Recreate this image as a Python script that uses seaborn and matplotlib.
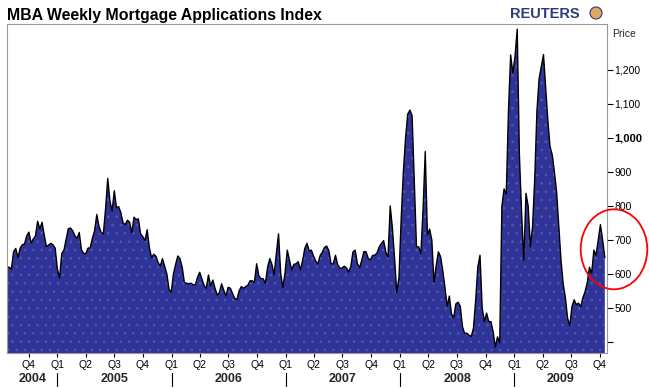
import numpy as np
import pandas as pd
import matplotlib
matplotlib.use("Agg")
import matplotlib.pyplot as plt
from matplotlib.patches import Ellipse, Circle
import seaborn as sns

# ---------------- data ----------------
start_date = "2004-07-24"
index_values = [
    620, 620, 614, 665, 675, 648, 676, 686, 688, 712,
    723, 691, 703, 712, 755, 732, 752, 715, 680, 685,
    690, 686, 676, 615, 588, 660, 670, 702, 733, 735,
    727, 712, 705, 722, 671, 660, 660, 676, 677, 705,
    727, 775, 740, 722, 718, 790, 881, 815, 785, 845,
    795, 798, 780, 750, 745, 758, 752,
    721, 767, 760, 762, 718, 710, 698, 730, 678, 648,
    658, 652, 634, 623, 645, 622, 600, 555, 546, 600,
    628, 653, 645, 620, 575, 573, 571, 573, 568, 568,
    590, 605, 585, 566, 558, 597, 565, 582, 558, 538,
    545, 571, 552, 535, 561, 558, 543, 528, 525, 550,
    563, 558, 563, 567, 580,
    580, 575, 630, 595, 586, 586, 572, 620, 645, 628,
    598, 660, 718, 600, 560, 605, 670, 640, 612, 628,
    630, 636, 612, 640, 675, 690, 668, 670, 652, 638,
    630, 654, 664, 678, 682, 668, 630, 630, 655, 628,
    617, 617, 623, 618, 606, 622, 665, 670, 631, 618,
    640, 666, 665, 645,
    642, 655, 655, 662, 680, 690, 698, 664, 650, 800,
    735, 645, 545, 590, 760, 900, 1000, 1070, 1082, 1065,
    876, 680, 680, 660, 790, 960, 715, 732, 700, 575,
    625, 665, 651, 610, 560, 505, 535, 482, 472, 512,
    517, 505, 445, 425, 426, 420, 416, 440, 520, 620,
    655, 500, 460, 485, 460,
    460, 430, 385, 415, 398, 800, 850, 835, 1080, 1244,
    1190, 1240, 1320, 950, 780, 640, 837, 800, 680, 740,
    880, 1080, 1175, 1210, 1245, 1145, 1050, 974, 950, 900,
    840, 740, 640, 570, 530, 470, 448, 504, 524, 510,
    514, 504, 530, 548, 575, 620, 602, 670, 655, 700,
    745, 700, 648,
]
y_ticks = [400, 500, 600, 700, 800, 900, 1000, 1100, 1200]
y_tick_labels = ["", "500", "600", "700", "800", "900", "1,000", "1,100", "1,200"]
quarter_start = "2004-10-01"
quarter_end = "2009-10-01"
years = [2004, 2005, 2006, 2007, 2008, 2009]
title = "MBA Weekly Mortgage Applications Index"

dates = pd.date_range(start_date, periods=len(index_values), freq="7D")
df = pd.DataFrame({"date": dates, "index": index_values})

# ---------------- style ----------------
sns.set_style("white")
plt.rcParams["font.family"] = ["Liberation Sans", "DejaVu Sans"]
plt.rcParams["hatch.linewidth"] = 0.6

W, H = 649, 388
fig = plt.figure(figsize=(W / 100, H / 100), dpi=100)
ax = fig.add_axes([7 / W, 35 / H, 600 / W, 329 / H])

ymin, ymax = 367.6, 1335
x0 = pd.Timestamp(start_date)
x1 = pd.Timestamp("2009-10-24")

ax.fill_between(df["date"], df["index"], ymin, facecolor="#313399",
                hatch="..", edgecolor="#3f66aa", linewidth=0, zorder=1)
sns.lineplot(data=df, x="date", y="index", ax=ax, color="black",
             linewidth=1.0, zorder=2)

ax.set_xlim(x0, x1)
ax.set_ylim(ymin, ymax)
ax.set_xlabel("")
ax.set_ylabel("")

# y axis on the right
ax.yaxis.tick_right()
ax.set_yticks(y_ticks)
ax.set_yticklabels(y_tick_labels)
ax.tick_params(axis="y", which="both", direction="out", length=4, width=0.8,
               pad=1.5, labelsize=7.5, colors="black", right=True, left=False)
ax.get_yticklabels()[6].set_fontweight("bold")
ax.get_yticklabels()[6].set_fontsize(8)

# quarter ticks
qticks = pd.date_range(quarter_start, quarter_end, freq="QS")
ax.set_xticks(qticks)
ax.set_xticklabels([f"Q{d.quarter}" for d in qticks])
ax.tick_params(axis="x", direction="out", length=3, width=0.8, pad=2,
               labelsize=7.5, colors="black", bottom=True)

for s in ax.spines.values():
    s.set_linestyle((0, (1, 1)))
    s.set_color("#9a9a9a")
    s.set_linewidth(0.8)

# year labels and separators
trans = ax.get_xaxis_transform()
ax_h = 329
for yr in years:
    ys = max(pd.Timestamp(f"{yr}-01-01"), x0)
    ye = min(pd.Timestamp(f"{yr + 1}-01-01"), x1)
    mid = ys + (ye - ys) / 2
    ax.text(mid, -26 / ax_h, str(yr), transform=trans, ha="center",
            va="center", fontsize=9, fontweight="bold", clip_on=False)
    if pd.Timestamp(f"{yr}-01-01") > x0:
        ax.plot([pd.Timestamp(f"{yr}-01-01")] * 2, [-20 / ax_h, -33 / ax_h],
                transform=trans, color="black", linewidth=0.8, clip_on=False)

# title and labels
fig.text(7 / W, 1 - 20 / H, title, fontsize=11.4, fontweight="bold",
         ha="left", va="baseline", color="black")
fig.text(612 / W, 1 - 37 / H, "Price", fontsize=7.5, ha="left", va="baseline")
fig.text(510 / W, 1 - 18 / H, "REUTERS", fontsize=10.5, fontweight="bold",
         color="#2a3c7c", ha="left", va="baseline")
fig.add_artist(Circle((596 / 100, (H - 13) / 100), 0.06,
                      transform=fig.dpi_scale_trans, facecolor="#e0a860",
                      edgecolor="#2a3c7c", linewidth=0.8))

# red ellipse highlight
fig.add_artist(Ellipse((614 / 100, (H - 249.3) / 100), 0.666, 0.80,
                       transform=fig.dpi_scale_trans, fill=False,
                       edgecolor="red", linewidth=1.3))

fig.savefig("out.png", dpi=100)
